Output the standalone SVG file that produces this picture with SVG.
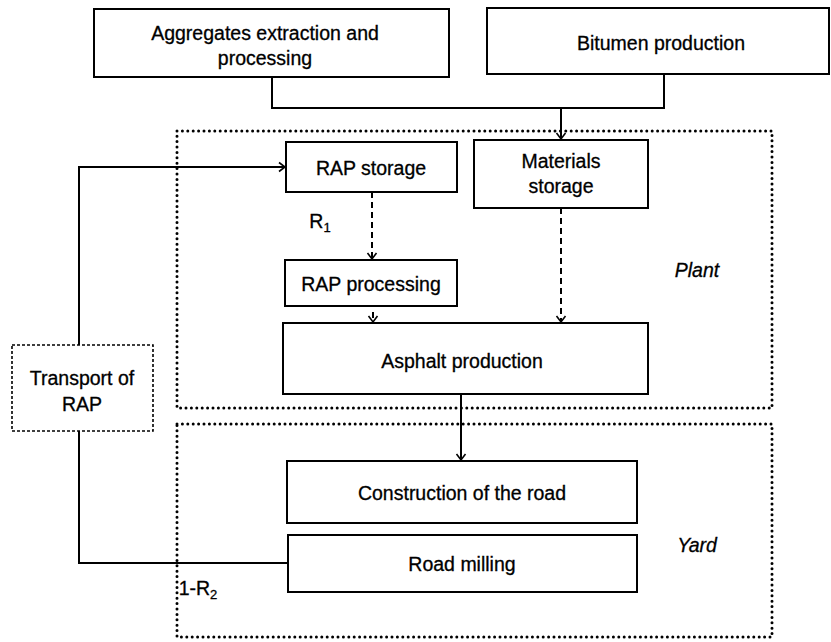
<svg xmlns="http://www.w3.org/2000/svg" width="831" height="642" viewBox="0 0 831 642">
<style>
.box{fill:#fff;stroke:#000;stroke-width:2}
.dot{fill:none;stroke:#000;stroke-width:3;stroke-linecap:round;stroke-dasharray:0 5.4}
.tb{fill:#fff;stroke:#000;stroke-width:1.6;stroke-dasharray:3 2}
.ln{fill:none;stroke:#000;stroke-width:2}
.dl{fill:none;stroke:#000;stroke-width:2;stroke-dasharray:6 4}
text{font-family:"Liberation Sans",Arial,sans-serif;font-size:19.5px;fill:#000;text-anchor:middle;stroke:#000;stroke-width:0.3}
.it{font-style:italic}
</style>
<defs>
<marker id="ar" markerWidth="12" markerHeight="12" refX="9" refY="6" orient="auto" markerUnits="userSpaceOnUse">
<path d="M3,1.5 L9,6 L3,10.5" fill="none" stroke="#000" stroke-width="1.6"/>
</marker>
</defs>
<g id="plant-area"><rect class="dot" x="177" y="131" width="595" height="277"/><text class="it" x="697" y="277">Plant</text></g>
<g id="yard-area"><rect class="dot" x="177" y="424" width="595" height="213"/><text class="it" x="697" y="552">Yard</text></g>
<g id="connectors">
<polyline class="ln" points="272,77 272,108 664,108 664,74"/>
<line class="ln" x1="561" y1="108" x2="561" y2="139" marker-end="url(#ar)"/>
<polyline class="ln" points="79,345 79,167 285,167" marker-end="url(#ar)"/>
<polyline class="ln" points="79,430 79,563 288,563"/>
<line class="dl" x1="372" y1="192" x2="372" y2="259" marker-end="url(#ar)"/>
<line class="dl" x1="373" y1="312" x2="373" y2="322" marker-end="url(#ar)"/>
<line class="dl" x1="561" y1="208" x2="561" y2="322" marker-end="url(#ar)"/>
<line class="ln" x1="461" y1="394" x2="461" y2="460" marker-end="url(#ar)"/>
<text x="320" y="228">R<tspan font-size="13" dy="4">1</tspan></text>
<text x="198" y="595">1-R<tspan font-size="13" dy="4">2</tspan></text>
</g>
<g id="aggregates"><rect class="box" x="94" y="9" width="355" height="68"/><text x="265" y="40">Aggregates extraction and</text><text x="265" y="65">processing</text></g>
<g id="bitumen"><rect class="box" x="487" y="8" width="342" height="66"/><text x="661" y="50">Bitumen production</text></g>
<g id="rap-storage"><rect class="box" x="286" y="142" width="171" height="50"/><text x="371" y="175">RAP storage</text></g>
<g id="materials-storage"><rect class="box" x="474" y="140" width="174" height="68"/><text x="561" y="168">Materials</text><text x="561" y="193">storage</text></g>
<g id="rap-processing"><rect class="box" x="285" y="260" width="172" height="46"/><text x="371" y="291">RAP processing</text></g>
<g id="asphalt"><rect class="box" x="283" y="323" width="365" height="71"/><text x="462" y="368">Asphalt production</text></g>
<g id="transport"><rect class="tb" x="12" y="345" width="141" height="86"/><text x="82" y="385">Transport of</text><text x="82" y="411">RAP</text></g>
<g id="construction"><rect class="box" x="287" y="461" width="350" height="62"/><text x="462" y="500">Construction of the road</text></g>
<g id="road-milling"><rect class="box" x="288" y="535" width="349" height="57"/><text x="462" y="571">Road milling</text></g>
</svg>
